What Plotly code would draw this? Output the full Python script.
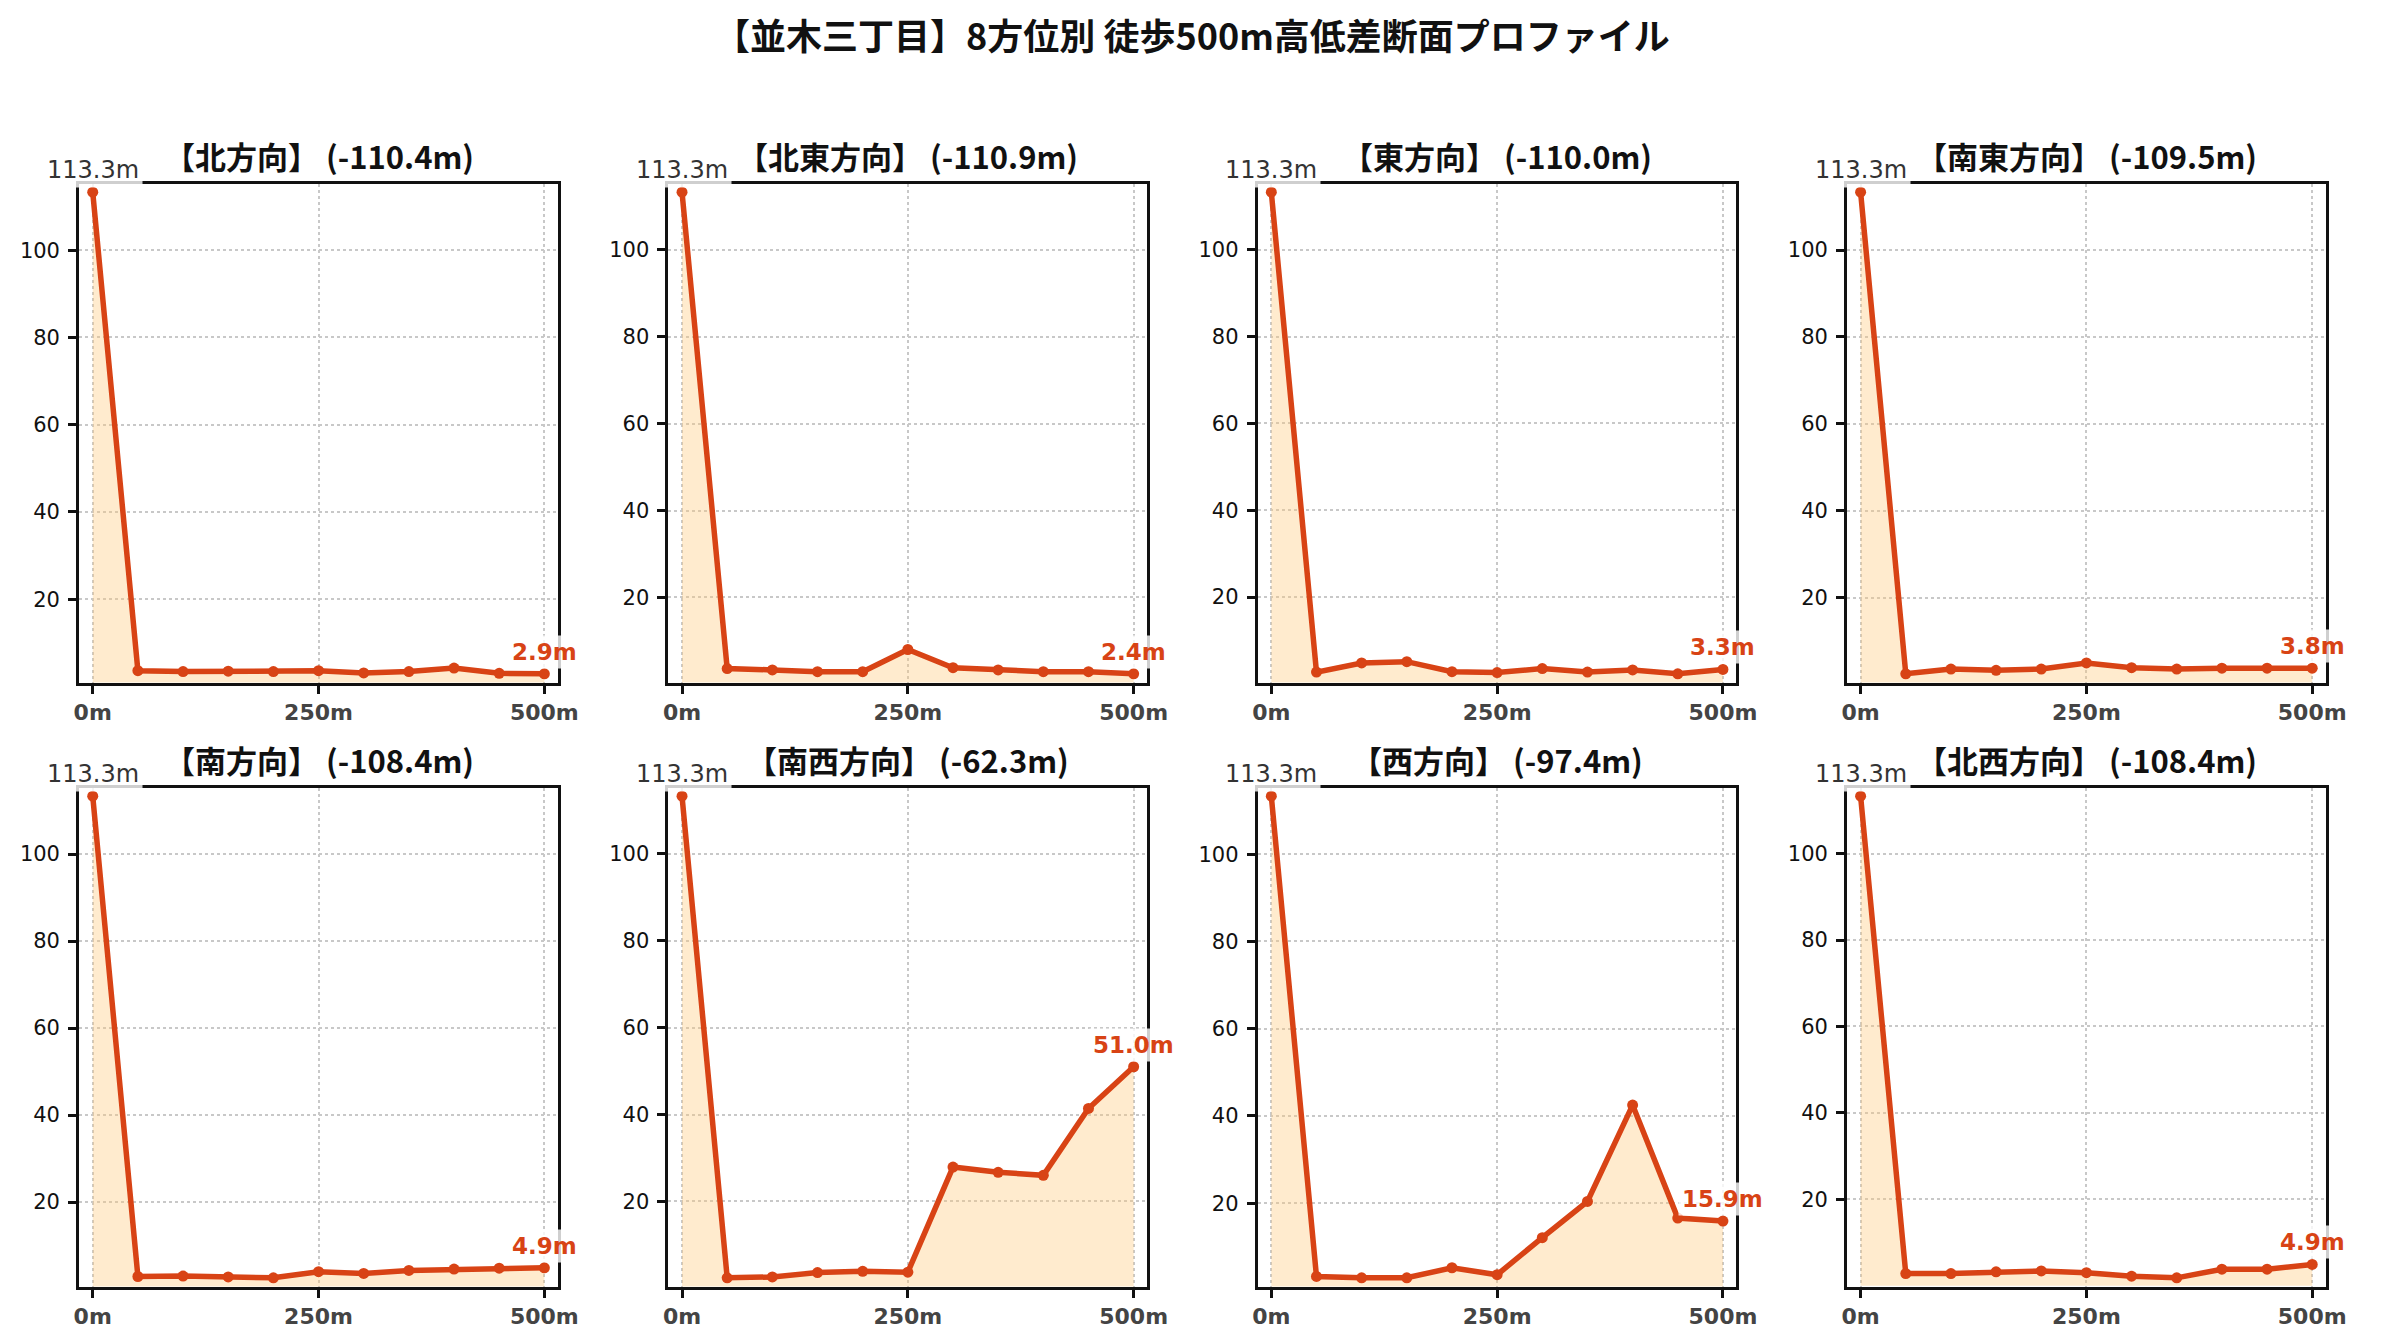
import plotly.graph_objects as go

# ---------------- data ----------------
distances = [0, 50, 100, 150, 200, 250, 300, 350, 400, 450, 500]
directions = ["北", "北東", "東", "南東", "南", "南西", "西", "北西"]

elev_n  = [113.3, 3.6, 3.4, 3.5, 3.4, 3.6, 3.1, 3.4, 4.2, 3.0, 2.9]
elev_ne = [113.3, 3.6, 3.3, 2.9, 2.9, 8.0, 3.8, 3.3, 2.9, 2.9, 2.4]
elev_e  = [113.3, 2.7, 4.8, 5.1, 2.8, 2.6, 3.5, 2.7, 3.2, 2.3, 3.3]
elev_se = [113.3, 2.5, 3.6, 3.3, 3.6, 5.0, 3.9, 3.6, 3.8, 3.8, 3.8]
elev_s  = [113.3, 2.9, 3.0, 2.8, 2.6, 4.0, 3.6, 4.3, 4.6, 4.8, 4.9]
elev_sw = [113.3, 2.4, 2.6, 3.6, 3.9, 3.7, 27.9, 26.7, 26.0, 41.4, 51.0]
elev_w  = [113.3, 3.2, 2.9, 2.9, 5.2, 3.6, 12.1, 20.4, 42.5, 16.6, 15.9]
elev_nw = [113.3, 2.8, 2.8, 3.2, 3.4, 3.0, 2.2, 1.8, 3.8, 3.8, 4.9]

series = [elev_n, elev_ne, elev_e, elev_se, elev_s, elev_sw, elev_w, elev_nw]

x_tickvals = [0, 250, 500]
x_ticktext = ["0m", "250m", "500m"]
y_tickvals = [20, 40, 60, 80, 100]

main_title = "【並木三丁目】8方位別 徒歩500m高低差断面プロファイル"

# ---------------- styling ----------------
W, H = 2381, 1340
LINE = "#D84315"
FILL = "rgba(255,200,120,0.36)"
CJK = "Noto Sans CJK JP"
SANS = "DejaVu Sans"

col_left0, col_w, col_step = 75.0, 484.0, 595.8
rows_px = [(183.5, 682.5), (787.5, 1286.5)]

fig = go.Figure()
layout = {}
annotations = []

for i, (d, vals) in enumerate(zip(directions, series)):
    r, c = divmod(i, 4)
    n = i + 1
    xa = "x" if n == 1 else f"x{n}"
    ya = "y" if n == 1 else f"y{n}"
    xkey = "xaxis" if n == 1 else f"xaxis{n}"
    ykey = "yaxis" if n == 1 else f"yaxis{n}"

    left = col_left0 + c * col_step
    right = left + col_w
    top, bottom = rows_px[r]

    fig.add_trace(go.Scatter(
        x=distances, y=vals, xaxis=xa, yaxis=ya,
        mode="lines+markers",
        line=dict(color=LINE, width=5.5),
        marker=dict(color=LINE, size=11),
        fill="tozeroy", fillcolor=FILL,
        showlegend=False, hoverinfo="x+y",
    ))

    ymin, ymax = min(vals) - 2, max(vals) + 2
    layout[xkey] = dict(
        domain=[left / W, right / W], anchor=ya, range=[-15, 515],
        tickvals=x_tickvals, ticktext=x_ticktext,
        tickfont=dict(family=SANS, size=22, color="#444444", weight="bold"),
        ticks="outside", ticklen=8, tickwidth=2.5, tickcolor="#111111",
        showline=True, mirror=True, linecolor="#111111", linewidth=3,
        showgrid=True, gridcolor="#C8C8C8", griddash="dot", gridwidth=1.5,
        zeroline=False, ticklabelstandoff=0,
    )
    layout[ykey] = dict(
        domain=[(H - bottom) / H, (H - top) / H], anchor=xa, range=[ymin, ymax],
        tickvals=y_tickvals,
        tickfont=dict(family=SANS, size=21, color="#111111"),
        ticks="outside", ticklen=8, tickwidth=2.5, tickcolor="#111111",
        showline=True, mirror=True, linecolor="#111111", linewidth=3,
        showgrid=True, gridcolor="#C8C8C8", griddash="dot", gridwidth=1.5,
        zeroline=False, ticklabelstandoff=4,
    )

    start, end = vals[0], vals[-1]
    diff = end - start
    annotations.append(dict(
        text=f"【{d}方向】 ({diff:.1f}m)",
        xref="paper", yref="paper",
        x=(left + right) / 2 / W, y=(H - (top - 28)) / H,
        xanchor="center", yanchor="middle", showarrow=False,
        font=dict(family=CJK, size=31, color="#111111", weight="bold"),
    ))
    annotations.append(dict(
        text=f"{start:.1f}m", xref=xa, yref=ya, x=distances[0], y=start,
        xanchor="center", yanchor="middle", yshift=22, showarrow=False,
        font=dict(family=SANS, size=24, color="#333333"),
        bgcolor="rgba(255,255,255,0.8)", borderpad=3,
    ))
    annotations.append(dict(
        text=f"{end:.1f}m", xref=xa, yref=ya, x=distances[-1], y=end,
        xanchor="center", yanchor="middle", yshift=22, showarrow=False,
        font=dict(family=SANS, size=23, color=LINE, weight="bold"),
        bgcolor="rgba(255,255,255,0.8)", borderpad=3,
    ))

annotations.append(dict(
    text=main_title, xref="paper", yref="paper",
    x=1200 / W, y=(H - 34) / H, xanchor="center", yanchor="middle",
    showarrow=False,
    font=dict(family=CJK, size=36, color="#111111", weight="bold"),
))

fig.update_layout(
    width=W, height=H,
    margin=dict(l=0, r=0, t=0, b=0),
    paper_bgcolor="white", plot_bgcolor="white",
    annotations=annotations,
    **layout,
)

fig.write_html("out.html", config={"displayModeBar": False},
               post_script="document.body.style.margin='0px';")
